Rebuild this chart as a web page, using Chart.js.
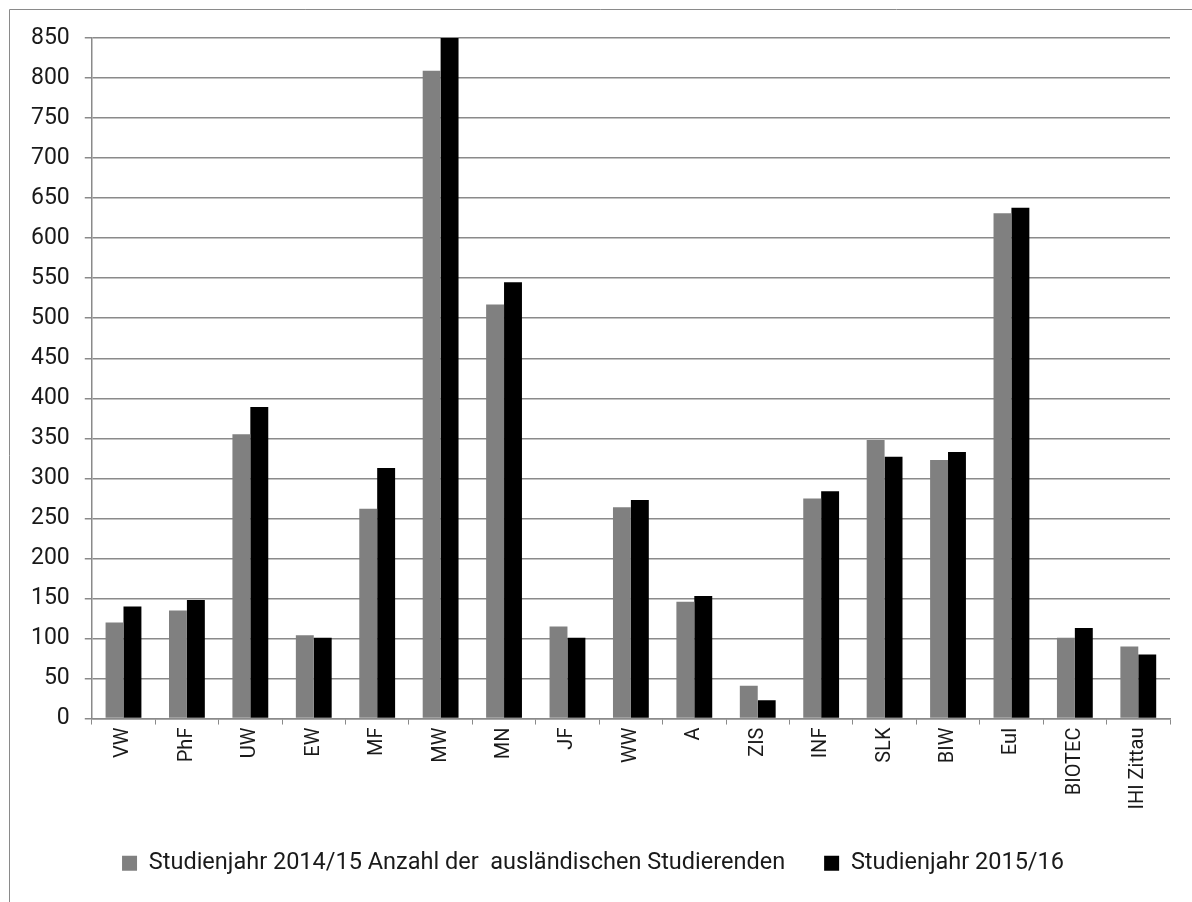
<!DOCTYPE html>
<html lang="de">
<head>
<meta charset="utf-8">
<title>Ausländische Studierende nach Bereich</title>
<script src="https://cdn.jsdelivr.net/npm/chart.js@4/dist/chart.umd.min.js"></script>
<style>
  html, body { margin: 0; padding: 0; background: #ffffff; }
  #wrap { position: relative; width: 1192px; height: 902px; }
</style>
</head>
<body>
<div id="wrap"><canvas id="chart" width="1192" height="902"></canvas></div>
<script>
// Fakultäten / Bereiche
const categories = ['VW', 'PhF', 'UW', 'EW', 'MF', 'MW', 'MN', 'JF', 'WW', 'A', 'ZIS', 'INF', 'SLK', 'BIW', 'EuI', 'BIOTEC', 'IHI Zittau'];

// Anzahl der ausländischen Studierenden je Studienjahr
const studienjahr2014 = [120, 135, 355, 104, 262, 809, 517, 115, 264, 146, 41, 275, 348, 323, 631, 101, 90];
const studienjahr2015 = [140, 148, 389, 101, 313, 850, 545, 101, 273, 153, 23, 284, 327, 333, 638, 113, 80];

const seriesLabels = ['Studienjahr 2014/15 Anzahl der  ausländischen Studierenden', 'Studienjahr 2015/16'];

// y-axis range
const yMin = 0;
const yMax = 850;
const yStep = 50;

const lineGray = '#8a8a8a';
const textColor = '#1a1a1a';
const fontFamily = 'Roboto, "Liberation Sans", Arial, sans-serif';

// thin frame around the chart area (left and top edges)
const framePlugin = {
  id: 'frame',
  beforeDraw(chart) {
    const ctx = chart.ctx;
    ctx.save();
    ctx.strokeStyle = lineGray;
    ctx.lineWidth = 1;
    ctx.beginPath();
    ctx.moveTo(9.5, chart.height);
    ctx.lineTo(9.5, 9.5);
    ctx.lineTo(chart.width, 9.5);
    ctx.stroke();
    ctx.restore();
  }
};

new Chart(document.getElementById('chart'), {
  type: 'bar',
  data: {
    labels: categories,
    datasets: [
      {
        label: seriesLabels[0],
        data: studienjahr2014,
        backgroundColor: '#808080',
        borderWidth: 0,
        barPercentage: 1.0,
        categoryPercentage: 0.565
      },
      {
        label: seriesLabels[1],
        data: studienjahr2015,
        backgroundColor: '#000000',
        borderWidth: 0,
        barPercentage: 1.0,
        categoryPercentage: 0.565
      }
    ]
  },
  options: {
    responsive: false,
    animation: false,
    devicePixelRatio: 1,
    layout: { padding: { left: 16, right: 22, top: 38, bottom: 17 } },
    plugins: {
      tooltip: { enabled: false },
      title: { display: false },
      legend: {
        display: true,
        position: 'bottom',
        align: 'center',
        labels: {
          boxWidth: 15,
          boxHeight: 15,
          padding: 39,
          color: textColor,
          font: { family: fontFamily, size: 23.5 }
        }
      }
    },
    scales: {
      x: {
        offset: true,
        grid: {
          offset: true,
          drawOnChartArea: false,
          drawTicks: true,
          tickLength: 6,
          color: lineGray,
          lineWidth: 1
        },
        border: { display: true, color: lineGray, width: 1.5 },
        ticks: {
          autoSkip: false,
          minRotation: 90,
          maxRotation: 90,
          padding: 3,
          color: textColor,
          font: { family: fontFamily, size: 20 }
        }
      },
      y: {
        min: yMin,
        max: yMax,
        grid: {
          drawTicks: true,
          tickLength: 7,
          color: lineGray,
          lineWidth: 1.5
        },
        border: { display: true, color: lineGray, width: 1.5 },
        ticks: {
          stepSize: yStep,
          padding: 15,
          color: textColor,
          font: { family: fontFamily, size: 23 }
        }
      }
    }
  },
  plugins: [framePlugin]
});
</script>
</body>
</html>
